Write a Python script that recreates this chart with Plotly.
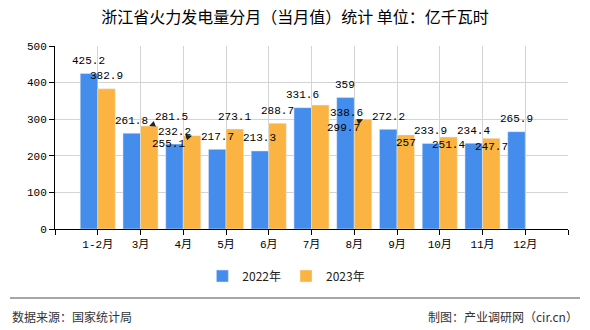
import plotly.graph_objects as go

months = ["1-2月", "3月", "4月", "5月", "6月", "7月", "8月", "9月", "10月", "11月", "12月"]
v2022 = [425.2, 261.8, 232.2, 217.7, 213.3, 331.6, 359, 272.2, 233.9, 234.4, 265.9]
v2023 = [382.9, 281.5, 255.1, 273.1, 288.7, 338.6, 299.7, 257, 251.4, 247.7, None]
y_ticks = [0, 100, 200, 300, 400, 500]

title = "浙江省火力发电量分月（当月值）统计 单位：亿千瓦时"
source = "数据来源：国家统计局"
maker = "制图：产业调研网（cir.cn）"

BLUE = "#448dec"
ORANGE = "#fbb441"
BARGAP = 0.18
MONO = "Liberation Mono, Noto Sans CJK SC"
CJK = "Noto Sans CJK SC, Noto Sans, sans-serif"
LABEL_FONT = dict(family=MONO, size=11, color="#000")

xs = list(range(len(months)))

# 2023 labels the original pushed aside: index -> (dx px, dy px downwards, arrow)
moved_2023 = {1: (22, -9, True), 2: (-24, 8, True), 5: (26, 8, False), 6: (-20, 9, True)}
# 2023 labels sitting over the bar top
inside_2023 = {7, 8, 9}


def fmt(v):
    return "" if v is None else "%g" % v


fig = go.Figure()
fig.add_trace(go.Bar(x=xs, y=v2022, name="2022年", marker_color=BLUE))
fig.add_trace(go.Bar(x=xs, y=v2023, name="2023年", marker_color=ORANGE))

bar_off = (1 - BARGAP) / 4

for i, v in enumerate(v2022):
    fig.add_annotation(x=xs[i] - bar_off, y=v, xref="x", yref="y", text=fmt(v),
                       showarrow=False, yshift=12.5, font=LABEL_FONT)

for i, v in enumerate(v2023):
    if v is None:
        continue
    if i in moved_2023:
        dx, dy, arrow = moved_2023[i]
        if arrow:
            fig.add_annotation(x=xs[i] + bar_off, y=v, xref="x", yref="y",
                               text=fmt(v), showarrow=True, ax=dx, ay=dy,
                               arrowhead=2, arrowsize=1, arrowwidth=1.2,
                               arrowcolor="#222", font=LABEL_FONT)
        else:
            fig.add_annotation(x=xs[i] + bar_off, y=v, xref="x", yref="y",
                               text=fmt(v), showarrow=False, xshift=dx, yshift=-dy,
                               font=LABEL_FONT)
    elif i in inside_2023:
        fig.add_annotation(x=xs[i] + bar_off, y=v, xref="x", yref="y", text=fmt(v),
                           showarrow=False, yshift=-8.5, font=LABEL_FONT)
    else:
        fig.add_annotation(x=xs[i] + bar_off, y=v, xref="x", yref="y", text=fmt(v),
                           showarrow=False, yshift=12.5, font=LABEL_FONT)

fig.update_layout(
    width=590, height=330,
    margin=dict(l=55, r=22, t=46, b=101),
    paper_bgcolor="white", plot_bgcolor="white",
    barmode="group", bargap=BARGAP, bargroupgap=0,
    title=dict(text=title, x=0.5, xanchor="center", y=1 - 17 / 330, yanchor="middle",
               font=dict(family=CJK, size=16, color="#000")),
    showlegend=True,
    legend=dict(orientation="h", x=0.451, xanchor="center", y=-0.257, yanchor="middle",
                font=dict(family=CJK, size=12, color="#222"), itemwidth=30,
                traceorder="normal"),
    font=dict(family=CJK, color="#222"),
)

fig.update_xaxes(
    range=[-1, len(months)], tickmode="array",
    tickvals=[-1] + xs + [len(months)], ticktext=[""] + months + [""],
    showgrid=True, gridcolor="#d4d4d4", gridwidth=1,
    showline=True, linecolor="#000", linewidth=1,
    ticks="outside", ticklen=5, tickcolor="#000",
    tickfont=dict(family=MONO, size=11, color="#000"),
    zeroline=False, fixedrange=True,
)
fig.update_yaxes(
    range=[0, 500], tickmode="array", tickvals=y_ticks,
    showgrid=True, gridcolor="#d4d4d4", gridwidth=1,
    showline=True, linecolor="#000", linewidth=1,
    ticks="outside", ticklen=5, tickcolor="#000",
    tickfont=dict(family=MONO, size=11, color="#000"),
    zeroline=False, fixedrange=True,
)

# footer separator and texts
fig.add_shape(type="line", xref="paper", yref="paper",
              x0=-45 / 513, x1=525 / 513, y0=-69 / 183, y1=-69 / 183,
              line=dict(color="#888", width=1.5))
fig.add_annotation(text=source, xref="paper", yref="paper", x=-45 / 513, y=-87 / 183,
                   xanchor="left", yanchor="middle", showarrow=False,
                   font=dict(family=CJK, size=12, color="#333"))
fig.add_annotation(text=maker, xref="paper", yref="paper", x=525 / 513, y=-87 / 183,
                   xanchor="right", yanchor="middle", showarrow=False,
                   font=dict(family=CJK, size=12, color="#333"))

fig.write_html("out.html", config={"displayModeBar": False})
